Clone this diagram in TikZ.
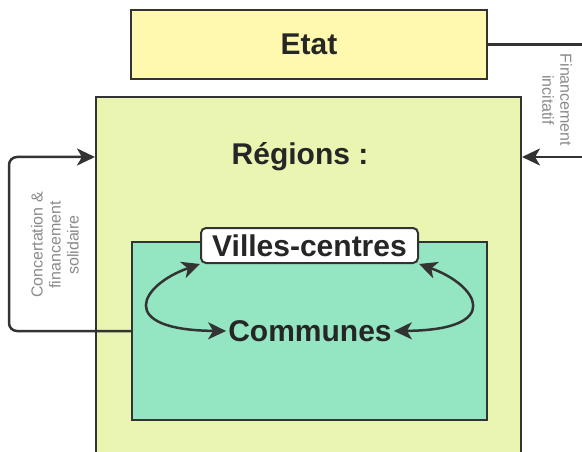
\documentclass[tikz,border=0pt]{standalone}
\usepackage{fontspec}
\usetikzlibrary{arrows.meta}
\setmainfont{Liberation Sans}
\definecolor{etatfill}{HTML}{FFF9B0}
\definecolor{regfill}{HTML}{E9F5B1}
\definecolor{comfill}{HTML}{94E5C1}
\definecolor{edge}{HTML}{333333}
\definecolor{labgray}{HTML}{8A8A8A}
\tikzset{
  bigtext/.style={font=\fontsize{30}{34}\selectfont\bfseries, text=black!85},
  boxed/.style={draw=edge, line width=2pt, rectangle, inner sep=0pt},
  sidelabel/.style={font=\fontsize{16}{18}\selectfont, text=labgray, align=center},
  link/.style={draw=edge, line width=2.5pt}
}
\begin{document}
\begin{tikzpicture}[x=1pt, y=-1pt]
       \tikzset{>={Stealth[length=18pt, width=17pt, inset=5pt]}}
       \useasboundingbox (0,0) rectangle (582,452);
       \clip (0,0) rectangle (582,452);
       % boxes
       \node[boxed, fill=etatfill, minimum width=356pt, minimum height=69pt, bigtext] (etat) at (309,44.5) {Etat};
       \node[boxed, fill=regfill, minimum width=425pt, minimum height=402pt] (reg) at (308.5,298) {};
       \node[bigtext] (regt) at (300,157) {Régions :};
       \node[boxed, fill=comfill, minimum width=355pt, minimum height=178pt] (inner) at (309.5,331) {};
       \node[bigtext, draw=edge, line width=2pt, fill=white, rounded corners=5pt, inner sep=2pt, minimum width=217pt, minimum height=35pt] (vc) at (309.5,245.5) {Villes-centres};
       \node[bigtext, inner sep=2pt] (comm) at (310,331) {Communes};
       % exchanges
       \draw[link, <->] (vc.south west) .. controls (140,285) and (115,330) .. (comm.west);
       \draw[link, <->] (vc.south east) .. controls (478,285) and (505,330) .. (comm.east);
       % funding
       \draw[link, ->] (etat.east) -- ++(110,0) |- (regt -| reg.east);
       \draw[link, ->, rounded corners=8pt] (inner.west) -- ++(-122,0) |- (regt -| reg.west);
       \node[sidelabel, rotate=-90] (fin) at (557,100) {Financement\\incitatif};
       \node[sidelabel, rotate=90] (conc) at (55,245) {Concertation \&\\financement\\solidaire};
\end{tikzpicture}
\end{document}
